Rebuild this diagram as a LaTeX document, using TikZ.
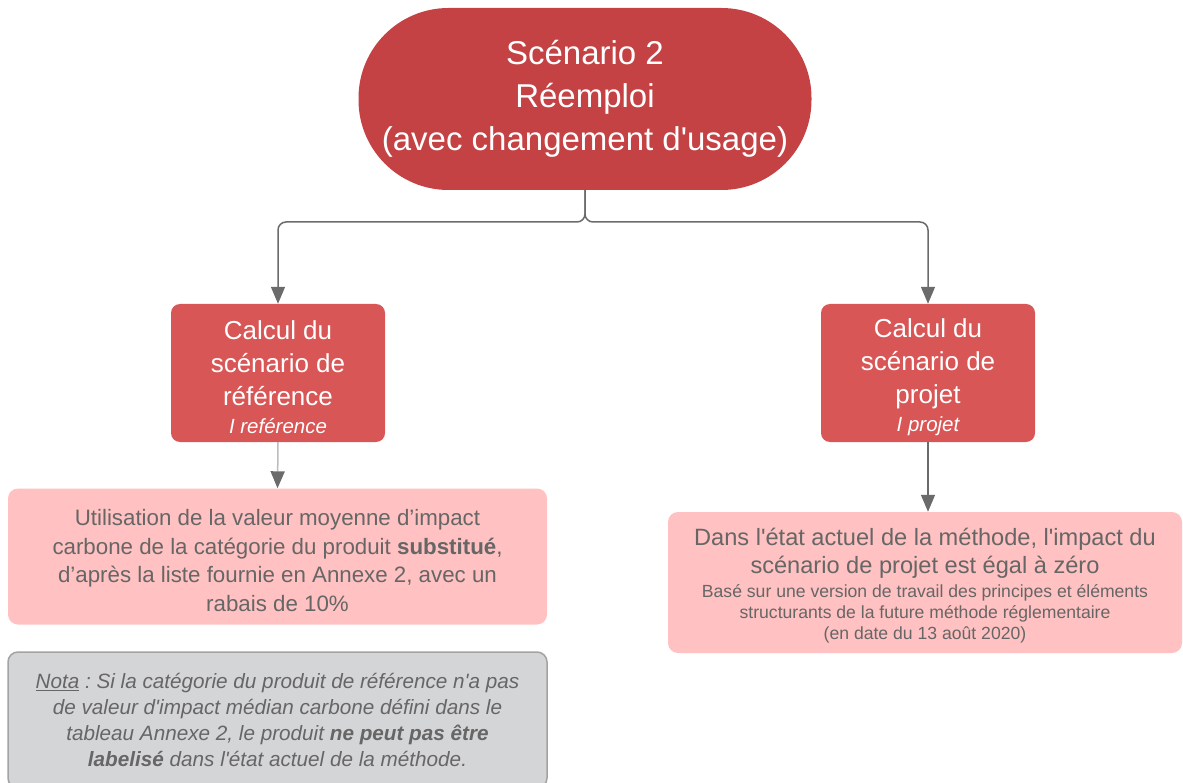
\documentclass[tikz,border=0pt]{standalone}
\usepackage{fontspec}
\setmainfont{Liberation Sans}[Ligatures=TeXOff]
\usetikzlibrary{arrows.meta,positioning}

\definecolor{titlered}{HTML}{C44244}
\definecolor{calcred}{HTML}{D95656}
\definecolor{resultpink}{HTML}{FFC1C1}
\definecolor{notagray}{HTML}{D4D5D7}
\definecolor{notaborder}{HTML}{A3A3A3}
\definecolor{textgray}{HTML}{666666}
\definecolor{linkgray}{HTML}{6B6B6B}

% font size with natural word spaces
\newcommand{\boxsize}[2]{\fontsize{#1}{#2}\selectfont\spaceskip=0pt\xspaceskip=0pt\relax}
\newcommand{\lift}[1]{\rule{0pt}{#1}}

\begin{document}
\begin{tikzpicture}[x=1pt,y=-1pt,
    centred/.style={execute at begin node={\centering\frenchspacing\spaceskip=0pt\xspaceskip=0pt\relax}},
    titlenode/.style={centred, fill=titlered, text=white, minimum width=453pt, minimum height=182pt,
        rounded corners=90pt, text width=440pt, font=\fontsize{33}{43}\selectfont},
    calcbox/.style={centred, fill=calcred, text=white, minimum width=214pt, minimum height=138pt,
        rounded corners=9pt, text width=205pt, font=\fontsize{26}{33}\selectfont},
    resultbox/.style={centred, fill=resultpink, text=textgray, rounded corners=10pt},
    notabox/.style={centred, fill=notagray, draw=notaborder, line width=1.5pt, text=textgray,
        rounded corners=10pt, font=\fontsize{20.7}{26}\selectfont\itshape},
    link/.style={draw=linkgray, line width=1.5pt, -{Triangle[length=17pt,width=14pt]}}]

 \useasboundingbox (0,0) rectangle (1183,783);

    % top node
    \node[titlenode] (title) at (585,99) {Scénario 2\\ Réemploi\\ (avec changement d'usage)};

    % calculation boxes
    \node[calcbox] (calcref) at (278,373) {\lift{27pt}Calcul du\\ scénario de\\ référence\par
        {\boxsize{20.5}{28}\itshape I reférence\par}};
    \node[calcbox] (calcproj) at (928,373) {\lift{27pt}Calcul du\\ scénario de\\ projet\par
        {\boxsize{20.5}{28}\itshape I projet\par}};

    % results
    \node[resultbox, minimum width=539pt, minimum height=136pt, text width=525pt,
          font=\fontsize{22.3}{28.7}\selectfont] (resref) at (277.5,556.5)
        {\lift{24pt}Utilisation de la valeur moyenne d’impact\\ carbone de la catégorie du produit \textbf{substitué},\\
         d’après la liste fournie en Annexe 2, avec un\\ rabais de 10\%};
    \node[resultbox, minimum width=514pt, minimum height=141pt, text width=505pt,
          font=\fontsize{23.6}{28}\selectfont] (resproj) at (925,582.5)
        {\lift{24pt}Dans l'état actuel de la méthode, l'impact du\\ scénario de projet est égal à zéro\par
         \vspace{3pt}
         {\boxsize{17.6}{21}Basé sur une version de travail des principes et éléments\\
          structurants de la future méthode réglementaire\\ (en date du 13 août 2020)\par}};

    % nota
    \node[notabox, minimum width=539pt, minimum height=136pt, text width=525pt] (nota) at (277.5,720)
        {\underline{Nota} : Si la catégorie du produit de référence n'a pas\\
         de valeur d'impact médian carbone défini dans le\\
         tableau Annexe 2, le produit \textbf{ne peut pas être}\\
         \textbf{labelisé} dans l'état actuel de la méthode.};

    % connectors
    \coordinate (split) at (585,222);
    \draw[link, rounded corners=8pt] (title.south) -- (split) -| (calcref.north);
    \draw[link, rounded corners=8pt] (title.south) -- (split) -| (calcproj.north);
    \draw[link, draw=linkgray!45, -{Triangle[length=17pt,width=14pt,color=linkgray]}] (calcref.south) -- (resref.north);
    \draw[link] (calcproj.south) -- (calcproj.south |- resproj.north);
\end{tikzpicture}
\end{document}
